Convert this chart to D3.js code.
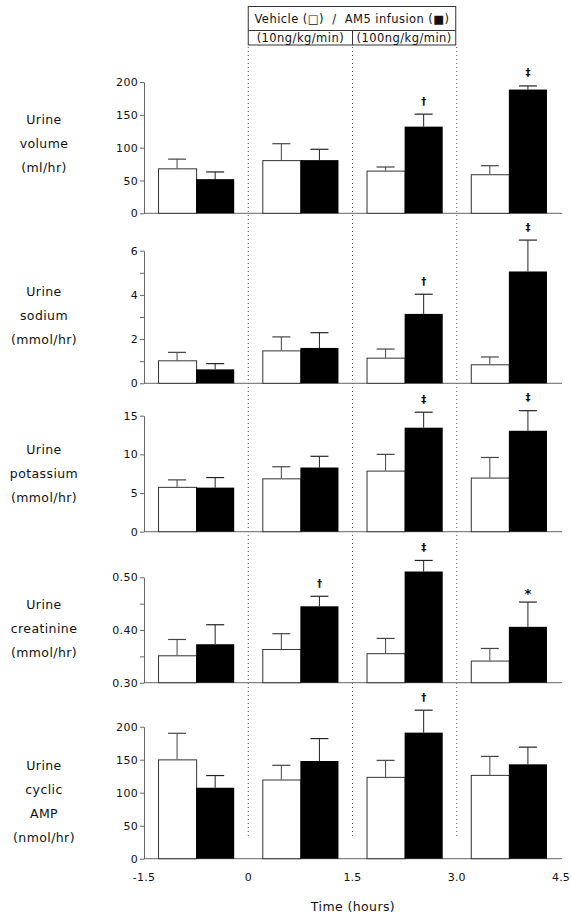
<!DOCTYPE html>
<html>
<head>
<meta charset="utf-8">
<script src="https://cdn.jsdelivr.net/npm/d3@7"></script>
<style>
  html, body { margin: 0; padding: 0; background: #fff; }
  svg { display: block; }
  text { font-family: "DejaVu Sans", Verdana, sans-serif; fill: #111; white-space: pre; }
</style>
</head>
<body>
<svg id="chart" width="571" height="917"></svg>
<script>
// ---------------- DATA ----------------
const periods = ["-1.5 to 0", "0 to 1.5", "1.5 to 3.0", "3.0 to 4.5"];
const periodCenters = [-0.75, 0.75, 2.25, 3.75];   // hours (middle of each period)
const xTickValues = [-1.5, 0, 1.5, 3.0, 4.5];
const xTickLabels = ["-1.5", "0", "1.5", "3.0", "4.5"];
const periodBoundaries = [0, 1.5, 3.0];

// Urine volume (ml/hr)
const volumeVehicle    = [68.5, 81, 65, 59.5];
const volumeVehicleTop = [82.5, 106, 70.5, 72.5];
const volumeAM5        = [52, 81, 132, 188.5];
const volumeAM5Top     = [63, 97.5, 151, 194];
const volumeSig        = ["", "", "†", "‡"];

// Urine sodium (mmol/hr)
const sodiumVehicle    = [1.04, 1.49, 1.16, 0.86];
const sodiumVehicleTop = [1.40, 2.10, 1.55, 1.19];
const sodiumAM5        = [0.63, 1.60, 3.14, 5.06];
const sodiumAM5Top     = [0.89, 2.29, 4.03, 6.48];
const sodiumSig        = ["", "", "†", "‡"];

// Urine potassium (mmol/hr)
const potassiumVehicle    = [5.8, 6.9, 7.9, 7.0];
const potassiumVehicleTop = [6.7, 8.4, 10.0, 9.6];
const potassiumAM5        = [5.7, 8.3, 13.45, 13.05];
const potassiumAM5Top     = [7.0, 9.75, 15.45, 15.65];
const potassiumSig        = ["", "", "‡", "‡"];

// Urine creatinine (mmol/hr)
const creatinineVehicle    = [0.352, 0.364, 0.356, 0.342];
const creatinineVehicleTop = [0.382, 0.393, 0.384, 0.365];
const creatinineAM5        = [0.373, 0.445, 0.511, 0.406];
const creatinineAM5Top     = [0.410, 0.464, 0.532, 0.453];
const creatinineSig        = ["", "†", "‡", "*"];

// Urine cyclic AMP (nmol/hr)
const campVehicle    = [150.5, 120, 124, 127];
const campVehicleTop = [190, 141.5, 149, 155];
const campAM5        = [107.5, 148, 191, 143];
const campAM5Top     = [126, 182, 225, 169];
const campSig        = ["", "", "†", ""];

// Tick values
const volumeTicks = [0, 50, 100, 150, 200];
const sodiumTicks = [0, 1, 2, 3, 4, 5, 6];
const sodiumTickLabels = ["0", "", "2", "", "4", "", "6"];
const potassiumTicks = [0, 5, 10, 15];
const creatinineTicks = [0.30, 0.35, 0.40, 0.45, 0.50];
const creatinineTickLabels = ["0.30", "", "0.40", "", "0.50"];
const campTicks = [0, 50, 100, 150, 200];

const headerTitle = "Vehicle (\u25A1)  /  AM5 infusion (\u25A0)";
const headerDoses = ["(10ng/kg/min)", "(100ng/kg/min)"];
const xAxisTitle = "Time (hours)";

// ---------------- LAYOUT ----------------
const svg = d3.select("#chart");
const x = d3.scaleLinear().domain([-1.5, 4.5]).range([144, 561]);
const barW = 0.548;          // hours
const capHalf = 9;           // px
const axisRight = 562;

const panels = [
  { label: ["Urine", "volume", "(ml/hr)"], domain: [0, 200], range: [213.3, 82],
    ticks: volumeTicks, tickLabels: volumeTicks.map(String),
    veh: volumeVehicle, vehTop: volumeVehicleTop, am: volumeAM5, amTop: volumeAM5Top, sig: volumeSig, labelY: 119 },
  { label: ["Urine", "sodium", "(mmol/hr)"], domain: [0, 6], range: [383.3, 250.7],
    ticks: sodiumTicks, tickLabels: sodiumTickLabels,
    veh: sodiumVehicle, vehTop: sodiumVehicleTop, am: sodiumAM5, amTop: sodiumAM5Top, sig: sodiumSig, labelY: 291 },
  { label: ["Urine", "potassium", "(mmol/hr)"], domain: [0, 15], range: [531.7, 415.7],
    ticks: potassiumTicks, tickLabels: potassiumTicks.map(String),
    veh: potassiumVehicle, vehTop: potassiumVehicleTop, am: potassiumAM5, amTop: potassiumAM5Top, sig: potassiumSig, labelY: 449 },
  { label: ["Urine", "creatinine", "(mmol/hr)"], domain: [0.30, 0.50], range: [682.7, 577.3],
    ticks: creatinineTicks, tickLabels: creatinineTickLabels,
    veh: creatinineVehicle, vehTop: creatinineVehicleTop, am: creatinineAM5, amTop: creatinineAM5Top, sig: creatinineSig, labelY: 604 },
  { label: ["Urine", "cyclic", "AMP", "(nmol/hr)"], domain: [0, 200], range: [858.7, 726.7],
    ticks: campTicks, tickLabels: campTicks.map(String),
    veh: campVehicle, vehTop: campVehicleTop, am: campAM5, amTop: campAM5Top, sig: campSig, labelY: 765 }
];

// dotted period boundaries
svg.append("g").selectAll("line").data(periodBoundaries).join("line")
  .attr("x1", d => x(d)).attr("x2", d => x(d))
  .attr("y1", 47).attr("y2", 838)
  .attr("stroke", "#555").attr("stroke-width", 1).attr("stroke-dasharray", "1,3");

// header box
const hb = svg.append("g");
const hx0 = x(0), hx1 = x(3.0) - 1, hmid = x(1.5);
hb.append("rect").attr("x", hx0).attr("y", 6.5).attr("width", hx1 - hx0).attr("height", 38.5)
  .attr("fill", "none").attr("stroke", "#333");
hb.append("line").attr("x1", hx0).attr("x2", hx1).attr("y1", 30.5).attr("y2", 30.5).attr("stroke", "#333");
hb.append("line").attr("x1", hmid).attr("x2", hmid).attr("y1", 30.5).attr("y2", 45).attr("stroke", "#333");
hb.append("text").attr("x", (hx0 + hx1) / 2).attr("y", 18.5).attr("text-anchor", "middle")
  .attr("dominant-baseline", "central").style("font-size", "11.5px").style("letter-spacing", "0.45px").text(headerTitle);
hb.append("text").attr("x", (hx0 + hmid) / 2).attr("y", 38).attr("text-anchor", "middle")
  .attr("dominant-baseline", "central").style("font-size", "11.5px").style("letter-spacing", "0.45px").text(headerDoses[0]);
hb.append("text").attr("x", (hmid + hx1) / 2).attr("y", 38).attr("text-anchor", "middle")
  .attr("dominant-baseline", "central").style("font-size", "11.5px").style("letter-spacing", "0.45px").text(headerDoses[1]);

panels.forEach((p, pi) => {
  const y = d3.scaleLinear().domain(p.domain).range(p.range);
  const g = svg.append("g");
  const base = p.domain[0];

  // y axis
  const yAxis = d3.axisLeft(y).tickValues(p.ticks).tickSize(4).tickSizeOuter(0)
    .tickFormat((d, i) => p.tickLabels[i]);
  const ag = g.append("g").attr("transform", `translate(${x(-1.5)},0)`).call(yAxis);
  ag.select(".domain").attr("stroke", "#666");
  ag.selectAll(".tick line").attr("stroke", "#666");
  ag.selectAll(".tick text").attr("x", -6).style("font-size", "11px").style("letter-spacing", "0.3px")
    .style("font-family", "DejaVu Sans, Verdana, sans-serif").attr("fill", "#111");

  // x axis baseline
  g.append("line").attr("x1", x(-1.5)).attr("x2", axisRight)
    .attr("y1", y(base)).attr("y2", y(base)).attr("stroke", "#666");

  // error bars (drawn before bars so the bar covers the lower part)
  const drawErr = (vals, tops, offset, color) => {
    const eg = g.append("g");
    vals.forEach((v, i) => {
      const cx = x(periodCenters[i] + offset);
      eg.append("line").attr("x1", cx).attr("x2", cx).attr("y1", y(v)).attr("y2", y(tops[i]))
        .attr("stroke", color).attr("stroke-width", 1);
      eg.append("line").attr("x1", cx - capHalf).attr("x2", cx + capHalf)
        .attr("y1", y(tops[i])).attr("y2", y(tops[i])).attr("stroke", color).attr("stroke-width", 1.2);
    });
  };
  drawErr(p.veh, p.vehTop, -barW / 2, "#444");
  drawErr(p.am, p.amTop, barW / 2, "#222");

  // vehicle bars (white)
  g.append("g").selectAll("rect").data(p.veh).join("rect")
    .attr("x", (d, i) => x(periodCenters[i] - barW) + 0.5)
    .attr("y", d => y(d) + 0.5)
    .attr("width", (d, i) => x(periodCenters[i]) - x(periodCenters[i] - barW))
    .attr("height", d => y(base) - y(d) - 0.5)
    .attr("fill", "#fff").attr("stroke", "#333").attr("stroke-width", 1);

  // AM5 bars (black)
  g.append("g").selectAll("rect").data(p.am).join("rect")
    .attr("x", (d, i) => x(periodCenters[i]))
    .attr("y", d => y(d))
    .attr("width", (d, i) => x(periodCenters[i] + barW) - x(periodCenters[i]))
    .attr("height", d => y(base) - y(d))
    .attr("fill", "#000");

  // significance marks
  g.append("g").selectAll("text").data(p.sig).join("text")
    .attr("x", (d, i) => x(periodCenters[i] + barW / 2))
    .attr("y", (d, i) => y(p.amTop[i]) - (d === "*" ? 9 : 13))
    .attr("text-anchor", "middle").attr("dominant-baseline", "central")
    .style("font-size", d => d === "*" ? "13px" : "10px").style("font-weight", "bold")
    .text(d => d);

  // left label
  g.append("g").selectAll("text").data(p.label).join("text")
    .attr("x", 44).attr("y", (d, i) => p.labelY + i * 24)
    .attr("text-anchor", "middle").attr("dominant-baseline", "central")
    .style("font-size", "12.5px").style("letter-spacing", "0.4px")
    .text(d => d);

  if (pi === panels.length - 1) {
    g.append("g").selectAll("text").data(xTickValues).join("text")
      .attr("x", d => x(d)).attr("y", 877)
      .attr("text-anchor", "middle").attr("dominant-baseline", "central")
      .style("font-size", "11px").style("letter-spacing", "0.2px")
      .text((d, i) => xTickLabels[i]);
    g.append("text").attr("x", 353).attr("y", 906)
      .attr("text-anchor", "middle").attr("dominant-baseline", "central")
      .style("font-size", "12.5px").style("letter-spacing", "0.4px")
      .text(xAxisTitle);
  }
});
</script>
</body>
</html>
